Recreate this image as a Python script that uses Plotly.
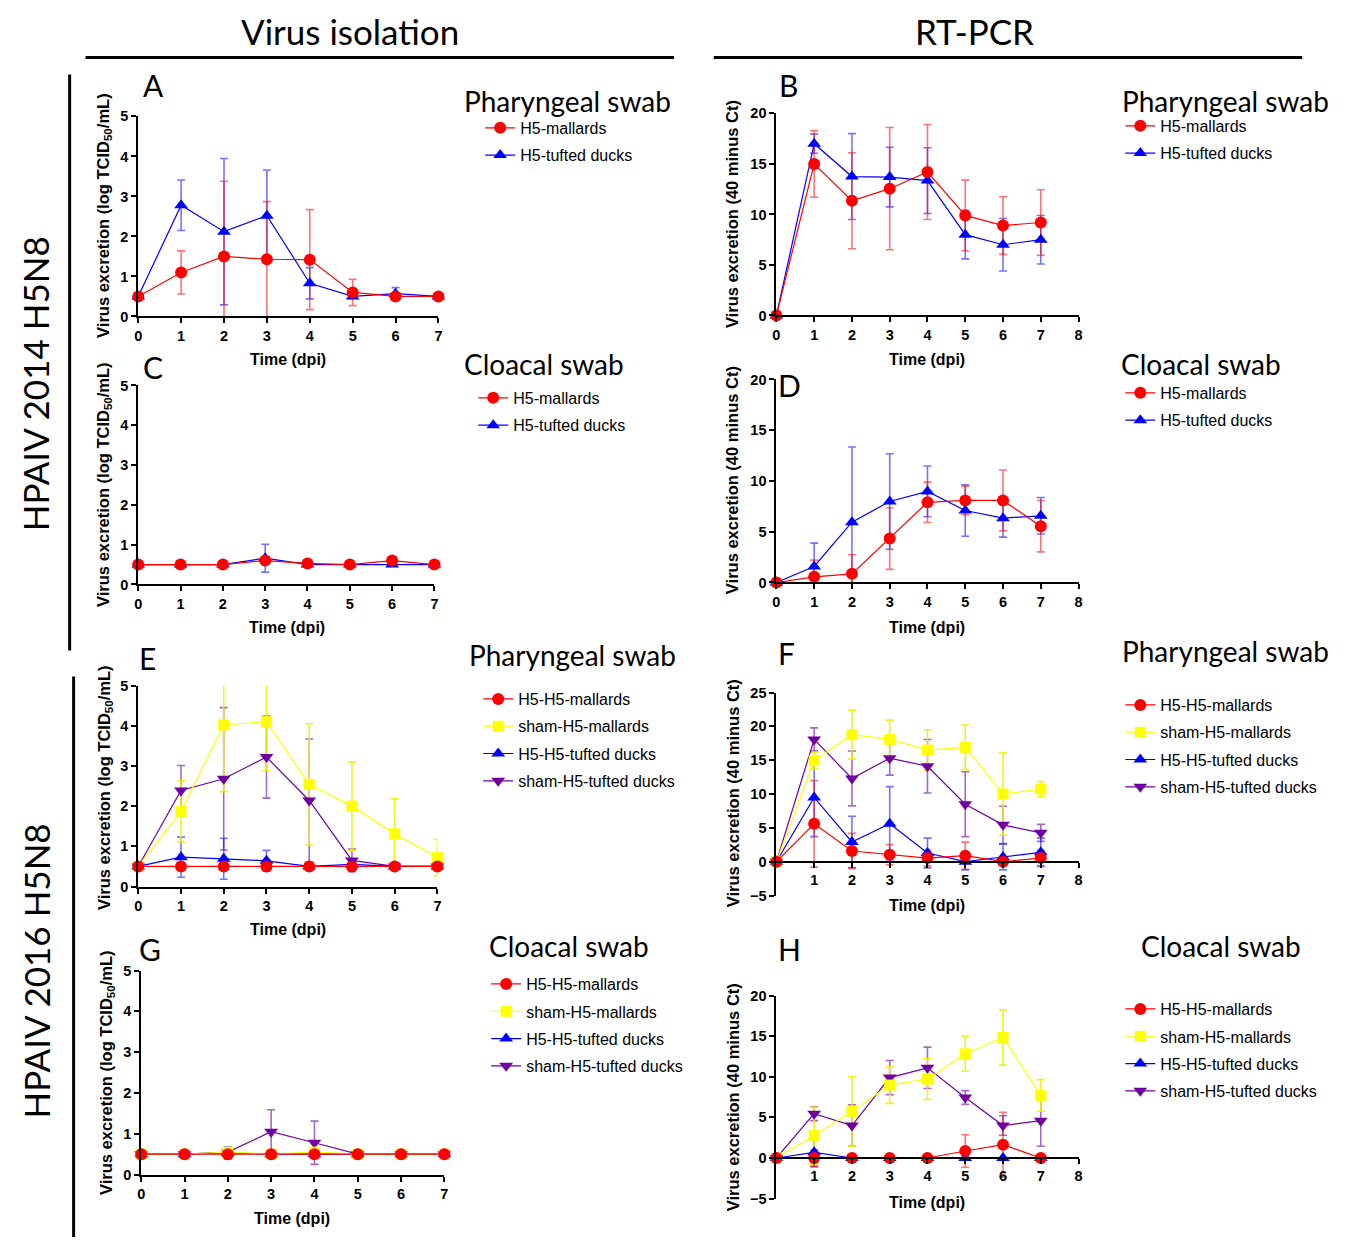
import plotly.graph_objects as go

# Page geometry as rendered: the figure sits inside the default 8px body margin;
# the vertical paper span was measured as 15.6 .. 1228.4 px on the page.
PAGE_W, PAGE_H, M = 1350, 1245, 8
FIG_W, FIG_H = PAGE_W - 2 * M, PAGE_H - 2 * M
TOP, SPAN = 15.6, 1212.8


def fx(px):
    return (px - M) / FIG_W


def fy(py):
    return 1 - (py - TOP) / SPAN


# ---------------- DATA ----------------
days = [0, 1, 2, 3, 4, 5, 6, 7]
ticks_vi = [0, 1, 2, 3, 4, 5, 6, 7]
ticks_pcr = [0, 1, 2, 3, 4, 5, 6, 7, 8]
ticks_pcr_neg = [1, 2, 3, 4, 5, 6, 7, 8]
yticks_vi = [0, 1, 2, 3, 4, 5]
yticks_pcr20 = [0, 5, 10, 15, 20]
yticks_pcr25 = [-5, 0, 5, 10, 15, 20, 25]
yticks_pcr20n = [-5, 0, 5, 10, 15, 20]

labels_2014 = {"mal": "H5-mallards", "tuf": "H5-tufted ducks"}
labels_2016 = {"mal": "H5-H5-mallards", "shmal": "sham-H5-mallards",
               "tuf": "H5-H5-tufted ducks", "shtuf": "sham-H5-tufted ducks"}

# Panel A: virus isolation, pharyngeal, 2014
A_mal = [0.5, 1.1, 1.5, 1.43, 1.42, 0.6, 0.5, 0.5]
A_mal_err = [0, 0.54, 1.88, 1.44, 1.25, 0.33, 0, 0]
A_tuf = [0.5, 2.78, 2.12, 2.52, 0.83, 0.5, 0.57, 0.5]
A_tuf_err = [0, 0.63, 1.83, 1.14, 0.39, 0.05, 0.15, 0]

# Panel B: RT-PCR, pharyngeal, 2014
B_mal = [0, 15.0, 11.35, 12.55, 14.2, 9.9, 8.9, 9.2]
B_mal_err = [0, 3.3, 4.75, 6.05, 4.7, 3.5, 2.85, 3.25]
B_tuf = [0, 17.0, 13.75, 13.7, 13.35, 8.0, 7.0, 7.5]
B_tuf_err = [0, 0.95, 4.25, 2.95, 3.25, 2.4, 2.6, 2.4]

# Panel C: virus isolation, cloacal, 2014
C_mal = [0.5, 0.5, 0.5, 0.6, 0.53, 0.5, 0.6, 0.5]
C_mal_err = [0, 0, 0, 0.05, 0.03, 0, 0.03, 0]
C_tuf = [0.5, 0.5, 0.5, 0.66, 0.5, 0.5, 0.5, 0.5]
C_tuf_err = [0, 0, 0, 0.35, 0, 0, 0, 0]

# Panel D: RT-PCR, cloacal, 2014
D_mal = [0, 0.56, 0.85, 4.33, 7.9, 8.08, 8.08, 5.55]
D_mal_err = [0, 1.64, 1.88, 3.04, 1.99, 1.4, 3.0, 2.53]
D_tuf = [0, 1.58, 5.94, 7.98, 8.97, 7.09, 6.34, 6.57]
D_tuf_err = [0, 2.3, 7.4, 4.7, 2.5, 2.53, 1.87, 1.8]

# Panel E: virus isolation, pharyngeal, 2016
E_mal = [0.5, 0.5, 0.5, 0.5, 0.5, 0.5, 0.5, 0.5]
E_mal_err = [0, 0, 0, 0.08, 0, 0.1, 0, 0]
E_shmal = [0.5, 1.87, 4.02, 4.1, 2.54, 2.0, 1.31, 0.72]
E_shmal_err = [0, 0.76, 1.66, 1.22, 1.51, 1.1, 0.87, 0.45]
E_tuf = [0.5, 0.73, 0.69, 0.64, 0.5, 0.55, 0.5, 0.5]
E_tuf_err = [0, 0.5, 0.51, 0.26, 0.05, 0.1, 0.05, 0]
E_shtuf = [0.5, 2.39, 2.68, 3.22, 2.14, 0.65, 0.5, 0.5]
E_shtuf_err = [0, 0.62, 1.77, 1.02, 1.53, 0.28, 0, 0]

# Panel F: RT-PCR, pharyngeal, 2016
F_mal = [0, 5.6, 1.58, 1.04, 0.54, 0.89, 0, 0.54]
F_mal_err = [0, 6.4, 2.6, 1.5, 1.15, 2.0, 0.3, 1.1]
F_shmal = [0, 14.95, 18.76, 18.07, 16.5, 16.9, 10.0, 10.74]
F_shmal_err = [0, 1.2, 3.6, 2.85, 3.0, 3.3, 6.1, 1.1]
F_tuf = [0, 9.5, 2.92, 5.6, 1.29, 0.0, 0.7, 1.39]
F_tuf_err = [0, 5.8, 3.8, 5.5, 2.2, 1.2, 1.9, 2.1]
F_shtuf = [0, 18.07, 12.3, 15.3, 14.1, 8.5, 5.45, 4.26]
F_shtuf_err = [0, 1.7, 4.05, 2.5, 3.95, 4.8, 2.75, 1.25]

# Panel G: virus isolation, cloacal, 2016
G_mal = [0.5, 0.5, 0.5, 0.5, 0.5, 0.5, 0.5, 0.5]
G_mal_err = [0, 0, 0, 0, 0, 0, 0, 0]
G_shmal = [0.5, 0.5, 0.55, 0.5, 0.55, 0.5, 0.5, 0.5]
G_shmal_err = [0, 0, 0.1, 0, 0.05, 0, 0, 0]
G_tuf = [0.5, 0.5, 0.53, 0.5, 0.5, 0.5, 0.5, 0.5]
G_tuf_err = [0, 0, 0.15, 0, 0.1, 0, 0, 0]
G_shtuf = [0.5, 0.5, 0.55, 1.05, 0.78, 0.5, 0.5, 0.5]
G_shtuf_err = [0, 0, 0, 0.54, 0.53, 0, 0, 0]

# Panel H: RT-PCR, cloacal, 2016
H_mal = [0, 0, 0, 0, 0, 0.86, 1.64, 0]
H_mal_err = [0, 1.0, 0, 0, 0, 2.0, 4.0, 0]
H_shmal = [0, 2.75, 5.74, 8.98, 9.71, 12.83, 14.84, 7.7]
H_shmal_err = [0, 3.5, 4.3, 2.25, 2.5, 2.15, 3.4, 1.95]
H_tuf = [0, 0.7, 0, 0, 0, 0, 0, 0]
H_tuf_err = [0, 1.8, 0, 0, 0, 0, 0, 0]
H_shtuf = [0, 5.45, 4.0, 9.9, 11.1, 7.45, 4.0, 4.6]
H_shtuf_err = [0, 0.85, 2.55, 2.1, 2.55, 0.85, 1.2, 3.15]

# ---------------- STYLE ----------------
STY = {
    "mal": dict(color="#FF0000", err="rgba(255,0,0,0.55)", symbol="circle", size=12, rank=1),
    "shmal": dict(color="#FFFF00", err="rgba(240,240,0,0.9)", symbol="square", size=11, rank=2),
    "tuf": dict(color="#0000FF", err="rgba(0,0,255,0.55)", symbol="triangle-up", size=12, rank=3),
    "shtuf": dict(color="#7000A0", err="rgba(112,0,160,0.6)", symbol="triangle-down", size=12, rank=4),
}
DRAW_ORDER = ["shtuf", "tuf", "shmal", "mal"]

YT_VI = "<b>Virus excretion (log TCID<sub>50</sub>/mL)</b>"
YT_PCR = "<b>Virus excretion (40 minus Ct)</b>"

panels = [
    dict(letter="A", box=(135, 437, 116, 316), xr=[0, 7], yr=[0, 5], xt=ticks_vi, yt=yticks_vi,
         series={"mal": (A_mal, A_mal_err), "tuf": (A_tuf, A_tuf_err)}, labels=labels_2014,
         ytitle=YT_VI, ytpos=(101, 215), xtpos=(286, 359), lpos=(150, 85),
         sub="Pharyngeal swab", subpos=(567, 101), leg=(479, 110.5)),
    dict(letter="B", box=(777, 1081, 113, 315), xr=[0, 8], yr=[0, 20], xt=ticks_pcr, yt=yticks_pcr20,
         series={"mal": (B_mal, B_mal_err), "tuf": (B_tuf, B_tuf_err)}, labels=labels_2014,
         ytitle=YT_PCR, ytpos=(733, 214), xtpos=(929, 359), lpos=(789, 85),
         sub="Pharyngeal swab", subpos=(1229, 101), leg=(1123, 108.5)),
    dict(letter="C", box=(135, 433, 385, 584), xr=[0, 7], yr=[0, 5], xt=ticks_vi, yt=yticks_vi,
         series={"mal": (C_mal, C_mal_err), "tuf": (C_tuf, C_tuf_err)}, labels=labels_2014,
         ytitle=YT_VI, ytpos=(101, 484), xtpos=(285, 627), lpos=(150, 367),
         sub="Cloacal swab", subpos=(543, 364), leg=(472, 380.5)),
    dict(letter="D", box=(777, 1081, 379, 582), xr=[0, 8], yr=[0, 20], xt=ticks_pcr, yt=yticks_pcr20,
         series={"mal": (D_mal, D_mal_err), "tuf": (D_tuf, D_tuf_err)}, labels=labels_2014,
         ytitle=YT_PCR, ytpos=(733, 480), xtpos=(929, 627), lpos=(790, 385),
         sub="Cloacal swab", subpos=(1204, 364), leg=(1123, 375.5)),
    dict(letter="E", box=(135, 436, 685, 886), xr=[0, 7], yr=[0, 5], xt=ticks_vi, yt=yticks_vi,
         series={"mal": (E_mal, E_mal_err), "shmal": (E_shmal, E_shmal_err),
                 "tuf": (E_tuf, E_tuf_err), "shtuf": (E_shtuf, E_shtuf_err)}, labels=labels_2016,
         ytitle=YT_VI, ytpos=(101, 787), xtpos=(286, 929), lpos=(144, 657),
         sub="Pharyngeal swab", subpos=(572, 654), leg=(477, 681.5)),
    dict(letter="F", box=(777, 1081, 692, 895), xr=[0, 8], yr=[-5, 25], xt=ticks_pcr_neg, yt=yticks_pcr25,
         series={"mal": (F_mal, F_mal_err), "shmal": (F_shmal, F_shmal_err),
                 "tuf": (F_tuf, F_tuf_err), "shtuf": (F_shtuf, F_shtuf_err)}, labels=labels_2016,
         ytitle=YT_PCR, ytpos=(733, 793), xtpos=(929, 905), lpos=(787, 652),
         sub="Pharyngeal swab", subpos=(1229, 650), leg=(1123, 687.5)),
    dict(letter="G", box=(138, 443, 970, 1174), xr=[0, 7], yr=[0, 5], xt=ticks_vi, yt=yticks_vi,
         series={"mal": (G_mal, G_mal_err), "shmal": (G_shmal, G_shmal_err),
                 "tuf": (G_tuf, G_tuf_err), "shtuf": (G_shtuf, G_shtuf_err)}, labels=labels_2016,
         ytitle=YT_VI, ytpos=(103, 1072), xtpos=(290, 1218), lpos=(147, 948),
         sub="Cloacal swab", subpos=(568, 945), leg=(485, 966.5)),
    dict(letter="H", box=(777, 1081, 995, 1198), xr=[0, 8], yr=[-5, 20], xt=ticks_pcr_neg, yt=yticks_pcr20n,
         series={"mal": (H_mal, H_mal_err), "shmal": (H_shmal, H_shmal_err),
                 "tuf": (H_tuf, H_tuf_err), "shtuf": (H_shtuf, H_shtuf_err)}, labels=labels_2016,
         ytitle=YT_PCR, ytpos=(733, 1097), xtpos=(929, 1202), lpos=(790, 948),
         sub="Cloacal swab", subpos=(1224, 945), leg=(1123, 991.5)),
]

TITLE_FONT = "Lato, 'Open Sans', sans-serif"
AX_FONT = "Arial, 'Liberation Sans', sans-serif"

fig = go.Figure()
layout = {}
annotations = []

for i, p in enumerate(panels, start=1):
    sfx = "" if i == 1 else str(i)
    xname, yname = "x" + sfx, "y" + sfx
    legname = "legend" + sfx
    x0, x1, ytop, ybot = p["box"]
    ydom = [fy(ybot), fy(ytop)]
    xaxis = dict(domain=[fx(x0), fx(x1)], range=p["xr"], tickvals=p["xt"],
                 showline=True, linecolor="black", linewidth=2, mirror=False,
                 ticks="outside", ticklen=5, tickwidth=2, tickcolor="black",
                 showgrid=False, zeroline=False, fixedrange=True,
                 tickfont=dict(family=AX_FONT, size=14.5, color="black", weight="bold"))
    ymin, ymax = p["yr"]
    if ymin < 0:
        zero_pos = ydom[0] + (0 - ymin) / (ymax - ymin) * (ydom[1] - ydom[0])
        xaxis.update(anchor="free", position=zero_pos)
    else:
        xaxis.update(anchor=yname)
    yaxis = dict(domain=ydom, range=p["yr"], tickvals=p["yt"], anchor=xname,
                 showline=True, linecolor="black", linewidth=2,
                 ticks="outside", ticklen=5, tickwidth=2, tickcolor="black",
                 showgrid=False, zeroline=False, fixedrange=True,
                 tickfont=dict(family=AX_FONT, size=14.5, color="black", weight="bold"))
    layout["xaxis" + sfx] = xaxis
    layout["yaxis" + sfx] = yaxis
    layout[legname] = dict(x=fx(p["leg"][0]), y=fy(p["leg"][1]), xanchor="left", yanchor="top",
                           bgcolor="rgba(0,0,0,0)", borderwidth=0, tracegroupgap=3.5,
                           font=dict(family=AX_FONT, size=16, color="black"))

    keys = [k for k in DRAW_ORDER if k in p["series"]]
    # error bars (clipped to the plot area)
    for k in keys:
        vals, errs = p["series"][k]
        s = STY[k]
        fig.add_trace(go.Scatter(
            x=days, y=vals, xaxis=xname, yaxis=yname, mode="markers",
            marker=dict(size=1, color="rgba(0,0,0,0)"),
            error_y=dict(type="data", array=errs, symmetric=True, visible=True,
                         color=s["err"], thickness=1.6, width=4),
            cliponaxis=True, showlegend=False, hoverinfo="skip"))
    # lines + markers
    for k in keys:
        vals, errs = p["series"][k]
        s = STY[k]
        fig.add_trace(go.Scatter(
            x=days, y=vals, xaxis=xname, yaxis=yname, mode="lines+markers",
            name=p["labels"][k], legend=legname, legendgroup=f"{p['letter']}_{k}",
            legendrank=s["rank"],
            line=dict(color=s["color"], width=1.2),
            marker=dict(symbol=s["symbol"], size=s["size"], color=s["color"], line=dict(width=0)),
            cliponaxis=False))

    # axis titles
    annotations.append(dict(text=p["ytitle"], x=fx(p["ytpos"][0]), y=fy(p["ytpos"][1]),
                            xref="paper", yref="paper", textangle=-90, showarrow=False,
                            xanchor="center", yanchor="middle",
                            font=dict(family=AX_FONT, size=16.5, color="black")))
    annotations.append(dict(text="<b>Time (dpi)</b>", x=fx(p["xtpos"][0]), y=fy(p["xtpos"][1]),
                            xref="paper", yref="paper", showarrow=False,
                            xanchor="center", yanchor="middle",
                            font=dict(family=AX_FONT, size=16, color="black")))
    annotations.append(dict(text=p["letter"], x=fx(p["lpos"][0]), y=fy(p["lpos"][1]),
                            xref="paper", yref="paper", showarrow=False,
                            xanchor="center", yanchor="middle",
                            font=dict(family=TITLE_FONT, size=30, color="black")))
    annotations.append(dict(text=p["sub"], x=fx(p["subpos"][0]), y=fy(p["subpos"][1]),
                            xref="paper", yref="paper", showarrow=False,
                            xanchor="center", yanchor="middle",
                            font=dict(family=TITLE_FONT, size=28, color="black")))

# column and row headings (kept fully inside the drawing area)
annotations += [
    dict(text="Virus isolation", x=fx(348), y=fy(31), xref="paper", yref="paper", showarrow=False,
         xanchor="center", yanchor="middle", borderpad=0,
         font=dict(family=TITLE_FONT, size=35, color="black")),
    dict(text="RT-PCR", x=fx(976), y=fy(31), xref="paper", yref="paper", showarrow=False,
         xanchor="center", yanchor="middle", borderpad=0,
         font=dict(family=TITLE_FONT, size=35, color="black")),
    dict(text="HPAIV 2014 H5N8", x=fx(32), y=fy(383), xref="paper", yref="paper", showarrow=False,
         textangle=-90, xanchor="center", yanchor="middle",
         font=dict(family=TITLE_FONT, size=35, color="black")),
    dict(text="HPAIV 2016 H5N8", x=fx(32), y=fy(970), xref="paper", yref="paper", showarrow=False,
         textangle=-90, xanchor="center", yanchor="middle",
         font=dict(family=TITLE_FONT, size=35, color="black")),
]

shapes = [
    dict(type="line", xref="paper", yref="paper", x0=fx(82), x1=fx(674), y0=fy(57), y1=fy(57),
         line=dict(color="black", width=3)),
    dict(type="line", xref="paper", yref="paper", x0=fx(714), x1=fx(1306), y0=fy(57), y1=fy(57),
         line=dict(color="black", width=3)),
    dict(type="line", xref="paper", yref="paper", x0=fx(66), x1=fx(66), y0=fy(74), y1=fy(650),
         line=dict(color="black", width=3)),
    dict(type="line", xref="paper", yref="paper", x0=fx(70), x1=fx(70), y0=fy(676), y1=fy(1237),
         line=dict(color="black", width=3)),
]

fig.update_layout(width=FIG_W, height=FIG_H, margin=dict(l=0, r=0, t=0, b=0),
                  paper_bgcolor="white", plot_bgcolor="white",
                  showlegend=True, annotations=annotations, shapes=shapes, **layout)

fig.write_html("out.html", config={"displayModeBar": False})
